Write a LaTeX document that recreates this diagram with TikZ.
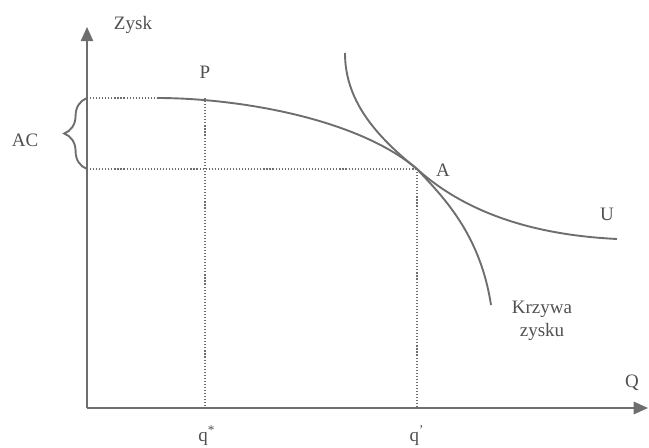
\documentclass[tikz,border=0pt]{standalone}
\usepackage{fontspec}
\setmainfont{Liberation Serif}
\usetikzlibrary{arrows.meta,decorations.pathreplacing}
\definecolor{ink}{HTML}{6E6E6E}
\definecolor{txt}{HTML}{505050}
\tikzset{
  axis/.style={draw=ink,line width=1pt,-{Triangle[length=7.5pt,width=6.5pt]}},
  curve/.style={draw=ink,line width=1pt},
  guide/.style={draw=ink,line width=0.6pt,densely dotted},
  lbl/.style={text=txt,inner sep=1pt}
}
\begin{document}
\begin{tikzpicture}[x=0.0185cm,y=0.0185cm]
\useasboundingbox (-87,-40) rectangle (562,408);
\coordinate (O) at (0,0);
\coordinate (ytip) at (0,381);
\coordinate (xtip) at (561,0);
\draw[axis] (O) -- (ytip);
\draw[axis] (O) -- (xtip);

% punkty
\coordinate (acT) at (0,310);
\coordinate (acB) at (0,239);
\coordinate (start) at (70,310);
\coordinate (P) at (118,310);
\coordinate (A) at (330,239);
\coordinate (Pq) at (118,0);
\coordinate (Aq) at (330,0);

\draw[guide] (acT) -- (start);
\draw[guide] (acB) -- (A);
\draw[guide] (P) -- (Pq);
\draw[guide] (A) -- (Aq);

\draw[curve] (start) .. controls (150,310) and (270,290) .. (A)
  .. controls (390,185) and (470,172) .. (530,169);
\draw[curve] (258,355) .. controls (258,310) and (285,275) .. (A)
  .. controls (355,212) and (393,175) .. (404,103);

\draw[curve,decorate,decoration={brace,amplitude=12pt}] (acB) -- (acT);

\node[lbl] (zysk) at (46,383) {Zysk};
\node[lbl] (Plab) at (118,336) {P};
\node[lbl] (AC) at (-62,268) {AC};
\node[lbl] (Alab) at (356,238) {A};
\node[lbl] (U) at (520,194) {U};
\node[lbl,align=center] (krz) at (455,87) {Krzywa\\zysku};
\node[lbl] (Q) at (545,25) {Q};
\node[lbl] (qs) at (120,-28) {q\textsuperscript{*}};
\node[lbl] (qp) at (330,-28) {q\textsuperscript{'}};
\end{tikzpicture}
\end{document}
